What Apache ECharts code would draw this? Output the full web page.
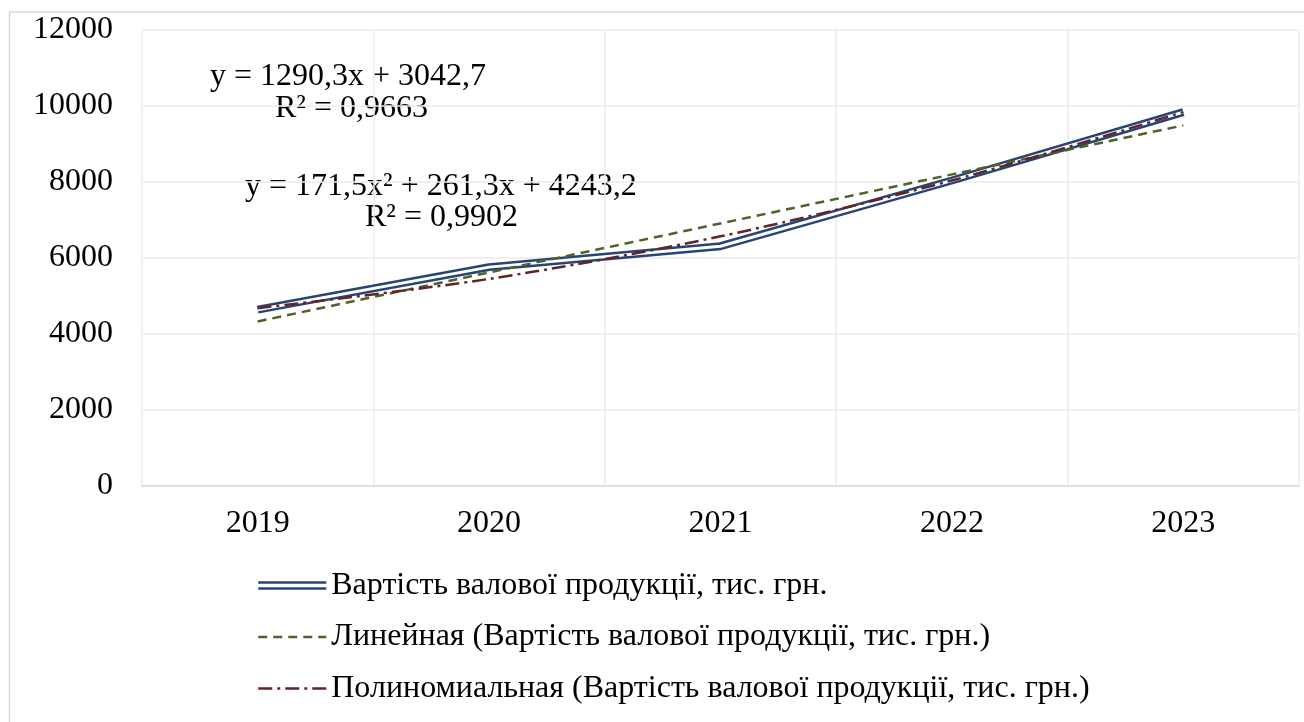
<!DOCTYPE html>
<html>
<head>
<meta charset="utf-8">
<script src="https://cdn.jsdelivr.net/npm/echarts@6/dist/echarts.min.js"></script>
<style>
  html, body { margin: 0; padding: 0; background: #fff; }
  #chart { width: 1304px; height: 722px; }
</style>
</head>
<body>
<div id="chart"></div>
<script>
// роки
var years = ['2019', '2020', '2021', '2022', '2023'];
// вартість валової продукції, тис. грн.
var grossValue = [4640, 5760, 6310, 8040, 9840];
// linear trend values at each year
var linearTrend = [4330, 5620, 6910, 8200, 9490];
// polynomial trend values at each year
var polyTrend = [4680, 5450, 6570, 8040, 9840];
var yTicks = [0, 12000, 2000];

var mainName = 'Вартість валової продукції, тис. грн.';
var linName = 'Линейная (Вартість валової продукції, тис. грн.)';
var polyName = 'Полиномиальная (Вартість валової продукції, тис. грн.)';

var font = '"Liberation Serif", "Times New Roman", serif';
var fs = 32;
var navy = '#264478', olive = '#4f6228', maroon = '#632523';

var chart = echarts.init(document.getElementById('chart'));
chart.setOption({
  animation: false,
  backgroundColor: '#fff',
  grid: { left: 142, right: 5, top: 30, bottom: 236 },
  xAxis: {
    type: 'category',
    data: years,
    boundaryGap: true,
    axisLine: { lineStyle: { color: '#d9d9d9', width: 1.5 } },
    axisTick: { show: false },
    axisLabel: { color: '#000', fontFamily: font, fontSize: fs, margin: 22 },
    splitLine: { show: true, lineStyle: { color: '#ebebeb', width: 1.5 } }
  },
  yAxis: {
    type: 'value',
    min: yTicks[0], max: yTicks[1], interval: yTicks[2],
    axisLine: { show: false },
    axisTick: { show: false },
    axisLabel: { color: '#000', fontFamily: font, fontSize: fs, margin: 29,
      formatter: function (v) { return String(v); } },
    splitLine: { lineStyle: { color: '#ebebeb', width: 1.5 } }
  },
  legend: {
    orient: 'vertical',
    left: 257,
    top: 569,
    padding: 0,
    itemWidth: 68,
    itemHeight: 9,
    itemGap: 18.5,
    textStyle: { color: '#000', fontFamily: font, fontSize: fs, lineHeight: 33 },
    data: [
      { name: mainName, icon: 'path://M0,0H68V2.5H0Z M0,6H68V8.5H0Z' },
      { name: linName, itemStyle: { opacity: 0 }, lineStyle: { width: 2.5 } },
      { name: polyName, itemStyle: { opacity: 0 }, lineStyle: { width: 2.5 } }
    ]
  },
  graphic: [
    { type: 'rect', silent: true, shape: { x: 9.5, y: 12, width: 1400, height: 800 },
      style: { fill: 'none', stroke: '#d9d9d9', lineWidth: 1.5 } },
    { type: 'text', left: 210, top: 61, style: { text: 'y = 1290,3x + 3042,7', font: fs + 'px ' + font, fill: '#000' } },
    { type: 'text', left: 275, top: 93, style: { text: 'R² = 0,9663', font: fs + 'px ' + font, fill: '#000' } },
    { type: 'text', left: 245, top: 171, style: { text: 'y = 171,5x² + 261,3x + 4243,2', font: fs + 'px ' + font, fill: '#000' } },
    { type: 'text', left: 365, top: 202, style: { text: 'R² = 0,9902', font: fs + 'px ' + font, fill: '#000' } }
  ],
  series: [
    {
      name: mainName, type: 'line', data: grossValue, symbol: 'none', z: 2,
      color: navy, lineStyle: { color: navy, width: 8 }
    },
    {
      name: 'inner', type: 'line', data: grossValue, symbol: 'none', z: 3,
      color: '#fff', lineStyle: { color: '#fff', width: 3 }
    },
    {
      name: linName, type: 'line', data: linearTrend, symbol: 'none', z: 4,
      color: olive, lineStyle: { color: olive, width: 2.5, type: [9, 6] }
    },
    {
      name: polyName, type: 'line', data: polyTrend, symbol: 'none', z: 5, smooth: 0.3,
      color: maroon, lineStyle: { color: maroon, width: 2.5, type: [14, 5, 3, 5] }
    }
  ]
});
</script>
</body>
</html>
